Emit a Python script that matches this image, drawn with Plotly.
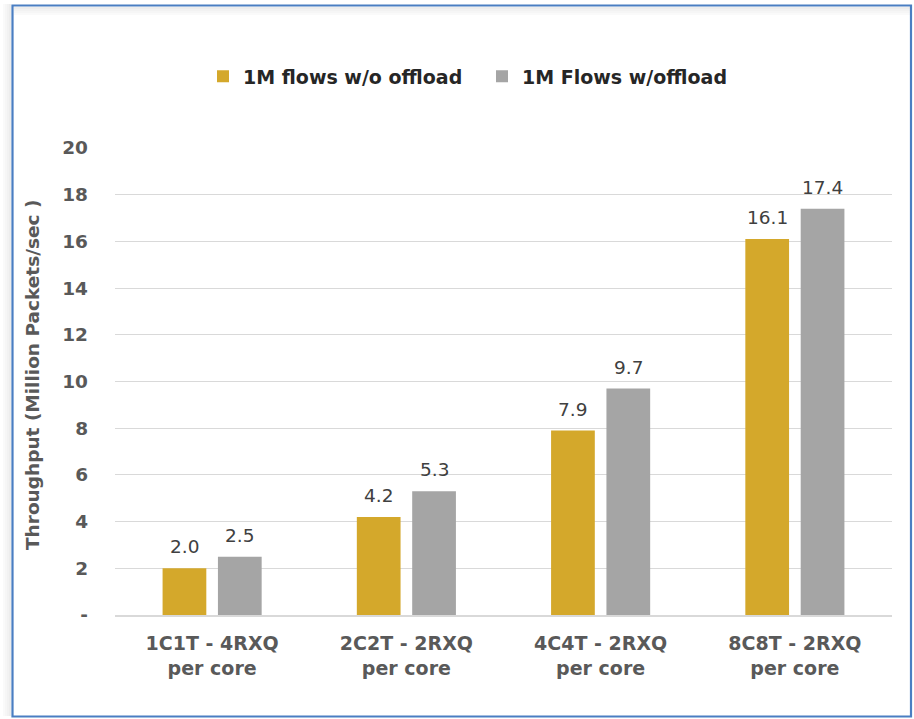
import plotly.graph_objects as go

# ---- data -------------------------------------------------------------
categories = ["1C1T - 4RXQ<br>per core", "2C2T - 2RXQ<br>per core",
              "4C4T - 2RXQ<br>per core", "8C8T - 2RXQ<br>per core"]
series_names = ["1M flows w/o offload", "1M Flows w/offload"]
no_offload = [2.0, 4.2, 7.9, 16.1]
with_offload = [2.5, 5.3, 9.7, 17.4]
y_ticks = [0, 2, 4, 6, 8, 10, 12, 14, 16, 18, 20]
y_tick_text = ["-"] + [str(v) for v in y_ticks[1:]]

# ---- style ------------------------------------------------------------
W, H = 914, 719
ML, MR, MT, MB = 115, 22, 148, 104
GOLD = "#D4A82B"
GREY = "#A5A5A5"
AXIS_TXT = "#595959"
FONT = "DejaVu Sans"
BARGAP = 0.43
BARGROUPGAP = 0.21

plot_w = W - ML - MR
plot_h = H - MT - MB


def px_x(px):
    return (px - ML) / plot_w


def px_y(py):
    return (H - MB - py) / plot_h


fig = go.Figure()
fig.add_trace(go.Bar(name=series_names[0], x=categories, y=no_offload,
                     marker=dict(color=GOLD, line=dict(width=0))))
fig.add_trace(go.Bar(name=series_names[1], x=categories, y=with_offload,
                     marker=dict(color=GREY, line=dict(width=0))))

# value labels above each bar
half = (1 - BARGAP) / 4
annotations = []
for i, (a, b) in enumerate(zip(no_offload, with_offload)):
    for dx, v in ((-half, a), (half, b)):
        annotations.append(dict(
            x=i + dx, y=v, xref="x", yref="y", text=f"{v:.1f}",
            showarrow=False, yanchor="bottom", yshift=9,
            font=dict(family=FONT, size=18.5, color="#404040")))

# vertical axis title
annotations.append(dict(
    x=px_x(32), y=px_y(375), xref="paper", yref="paper",
    text="Throughput (Million Packets/sec )", textangle=-90,
    showarrow=False, xanchor="center", yanchor="middle",
    font=dict(family=FONT, size=18.5, color=AXIS_TXT, weight="bold")))

# frame with a soft shadow
shapes = []
shade = ["#EDEDED", "#F2F2F2", "#F6F6F6", "#FAFAFA"]
for k, c in enumerate(shade):
    shapes.append(dict(type="rect", xref="paper", yref="paper", layer="below",
                       x0=px_x(14), x1=px_x(910), y0=px_y(7 + 2 * k), y1=px_y(9 + 2 * k),
                       line=dict(width=0), fillcolor=c))
for k, c in enumerate(shade):
    shapes.append(dict(type="rect", xref="paper", yref="paper", layer="below",
                       x0=px_x(9 - 2 * k), x1=px_x(11 - 2 * k), y0=px_y(716), y1=px_y(4),
                       line=dict(width=0), fillcolor=c))
shapes.append(dict(type="rect", xref="paper", yref="paper", layer="above",
                   x0=px_x(12.5), x1=px_x(911), y0=px_y(716.5), y1=px_y(5.5),
                   line=dict(color="#4A7EC2", width=2.2), fillcolor="rgba(0,0,0,0)"))

fig.update_layout(
    width=W, height=H,
    margin=dict(l=ML, r=MR, t=MT, b=MB, pad=0),
    paper_bgcolor="white", plot_bgcolor="white",
    barmode="group", bargap=BARGAP, bargroupgap=BARGROUPGAP,
    font=dict(family=FONT, color=AXIS_TXT),
    showlegend=True,
    legend=dict(orientation="h", x=px_x(203), xanchor="left",
                y=px_y(76.5), yanchor="middle",
                entrywidth=234, entrywidthmode="pixels",
                font=dict(family=FONT, size=19, color="#262626", weight="bold"),
                bgcolor="rgba(0,0,0,0)", traceorder="normal"),
    annotations=annotations,
    shapes=shapes,
    xaxis=dict(
        type="category", showgrid=False, showline=True,
        linecolor="#D9D9D9", linewidth=2, ticks="",
        tickfont=dict(family=FONT, size=19, color=AXIS_TXT, weight="bold"),
        ticklabelstandoff=10, automargin=False),
    yaxis=dict(
        range=[0, 20], tickvals=y_ticks, ticktext=y_tick_text,
        showgrid=True, gridcolor="#D9D9D9", gridwidth=1.3,
        zeroline=False, showline=False, ticks="",
        tickfont=dict(family=FONT, size=18.5, color=AXIS_TXT, weight="bold"),
        ticklabelstandoff=26, automargin=False),
)

fig.write_html("out.html")
